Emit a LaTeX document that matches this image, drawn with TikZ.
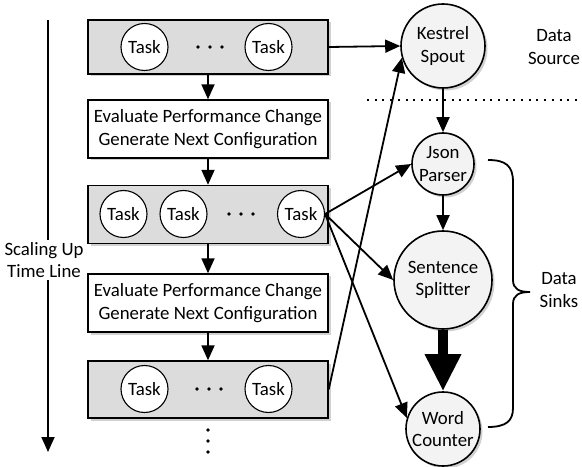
\documentclass[tikz,border=0pt]{standalone}
\usepackage{fontspec}
\setmainfont{Carlito}
\usetikzlibrary{arrows.meta,shadows,calc}
\definecolor{stagefill}{RGB}{220,220,220}
\definecolor{opfill}{RGB}{243,243,243}
\begin{document}
\begin{tikzpicture}[x=1bp,y=-1bp,
  font=\fontsize{18.8bp}{22.5bp}\selectfont,
  softshadow/.style={drop shadow={shadow xshift=2.5bp,shadow yshift=-2.5bp,fill=black,opacity=0.18}},
  stagebox/.style={draw,line width=1.4bp,fill=stagefill,minimum width=240bp,softshadow},
  evalbox/.style={draw,line width=1.4bp,fill=white,minimum width=240bp,minimum height=58bp,align=center,softshadow},
  task/.style={circle,draw,fill=white,line width=1.1bp,minimum size=47bp,inner sep=-5bp},
  op/.style={circle,draw,fill=opfill,line width=1.6bp,inner sep=-8bp,align=center,softshadow},
  flow/.style={line width=1.8bp,-{Triangle[width=13bp,length=15bp]}},
  heavy/.style={line width=10bp,-{Triangle[width=34bp,length=37bp]}},
  dotmark/.style={fill=black},
]
\useasboundingbox (0,0) rectangle (582,467);

% ---- scaling stages (left column) ----
\node[stagebox,minimum height=54bp] (b1) at (208,47) {};
\node[evalbox] (e1) at (208,129) {Evaluate Performance Change\\Generate Next Configuration};
\node[stagebox,minimum height=58bp] (b2) at (208,214.5) {};
\node[evalbox] (e2) at (208,303) {Evaluate Performance Change\\Generate Next Configuration};
\node[stagebox,minimum height=57bp] (b3) at (208,389.5) {};

% tasks in each stage
\node[task] (t1a) at (144.5,47) {Task};
\node[task] (t1b) at (268.5,47) {Task};
\node[task] (t2a) at (123.5,214) {Task};
\node[task] (t2b) at (183.5,214) {Task};
\node[task] (t2c) at (301,214) {Task};
\node[task] (t3a) at (144.5,389) {Task};
\node[task] (t3b) at (268.5,389) {Task};

% ellipsis dots
\foreach \x in {198,210,222} \fill[dotmark] (\x,47) circle (1.9);
\foreach \x in {229,241,253} \fill[dotmark] (\x,214) circle (1.9);
\foreach \x in {197,209,221} \fill[dotmark] (\x,389) circle (1.9);
\foreach \y in {430,441,452} \fill[dotmark] (208,\y) circle (1.9);

% stage sequence
\draw[flow] (b1.south) -- (e1.north);
\draw[flow] (e1.south) -- (b2.north);
\draw[flow] (b2.south) -- (e2.north);
\draw[flow] (e2.south) -- (b3.north);

% ---- time line ----
\coordinate (tltop) at (48,20);
\coordinate (tlbot) at (48,452);
\node[align=center,inner sep=2bp] (tl) at (44,260) {Scaling Up\\Time Line};
\draw[line width=1.8bp] (tltop) -- (tltop |- tl.north);
\draw[flow] (tlbot |- tl.south) -- (tlbot);

% ---- topology operators (right column) ----
\node[op,minimum size=84bp] (kes) at (443,46) {Kestrel\\Spout};
\node[op,minimum size=62bp] (json) at (443,164) {Json\\Parser};
\node[op,minimum size=98bp] (sent) at (443,280) {Sentence\\Splitter};
\node[op,minimum size=74bp] (word) at (443,429) {Word\\Counter};

\node[align=center] (src) at (554,47) {Data\\Source};
\node[align=center] (snk) at (559,290) {Data\\Sinks};

% separator between source and sinks
\coordinate (sepL) at (367,100);
\coordinate (sepR) at (582,100);
\draw[line width=2bp,dash pattern=on 2bp off 5.7bp] (sepL) -- (sepR);

% brace around the sinks
\draw[line width=1.8bp]
  (488,160) .. controls (506,160) and (513,166) .. (513,182)
  -- (513,280) .. controls (513,289) and (519,292) .. (530,292)
  .. controls (519,292) and (513,295) .. (513,304)
  -- (513,408) .. controls (513,421) and (506,427) .. (488,427);

% data flow between operators
\draw[flow] (kes.south) -- (json.north);
\draw[flow] (json.south) -- (sent.north);
\draw[heavy] (sent.south) -- (word.north);

% task placement onto operators
\draw[flow] (b1.east) -- (kes.west);
\draw[flow] (b3.east) -- (kes.196);
\draw[flow] (t2c.east) -- (json.west);
\draw[flow] (t2c.east) -- (sent.west);
\draw[flow] (t2c.east) -- (word.163);
\end{tikzpicture}
\end{document}
